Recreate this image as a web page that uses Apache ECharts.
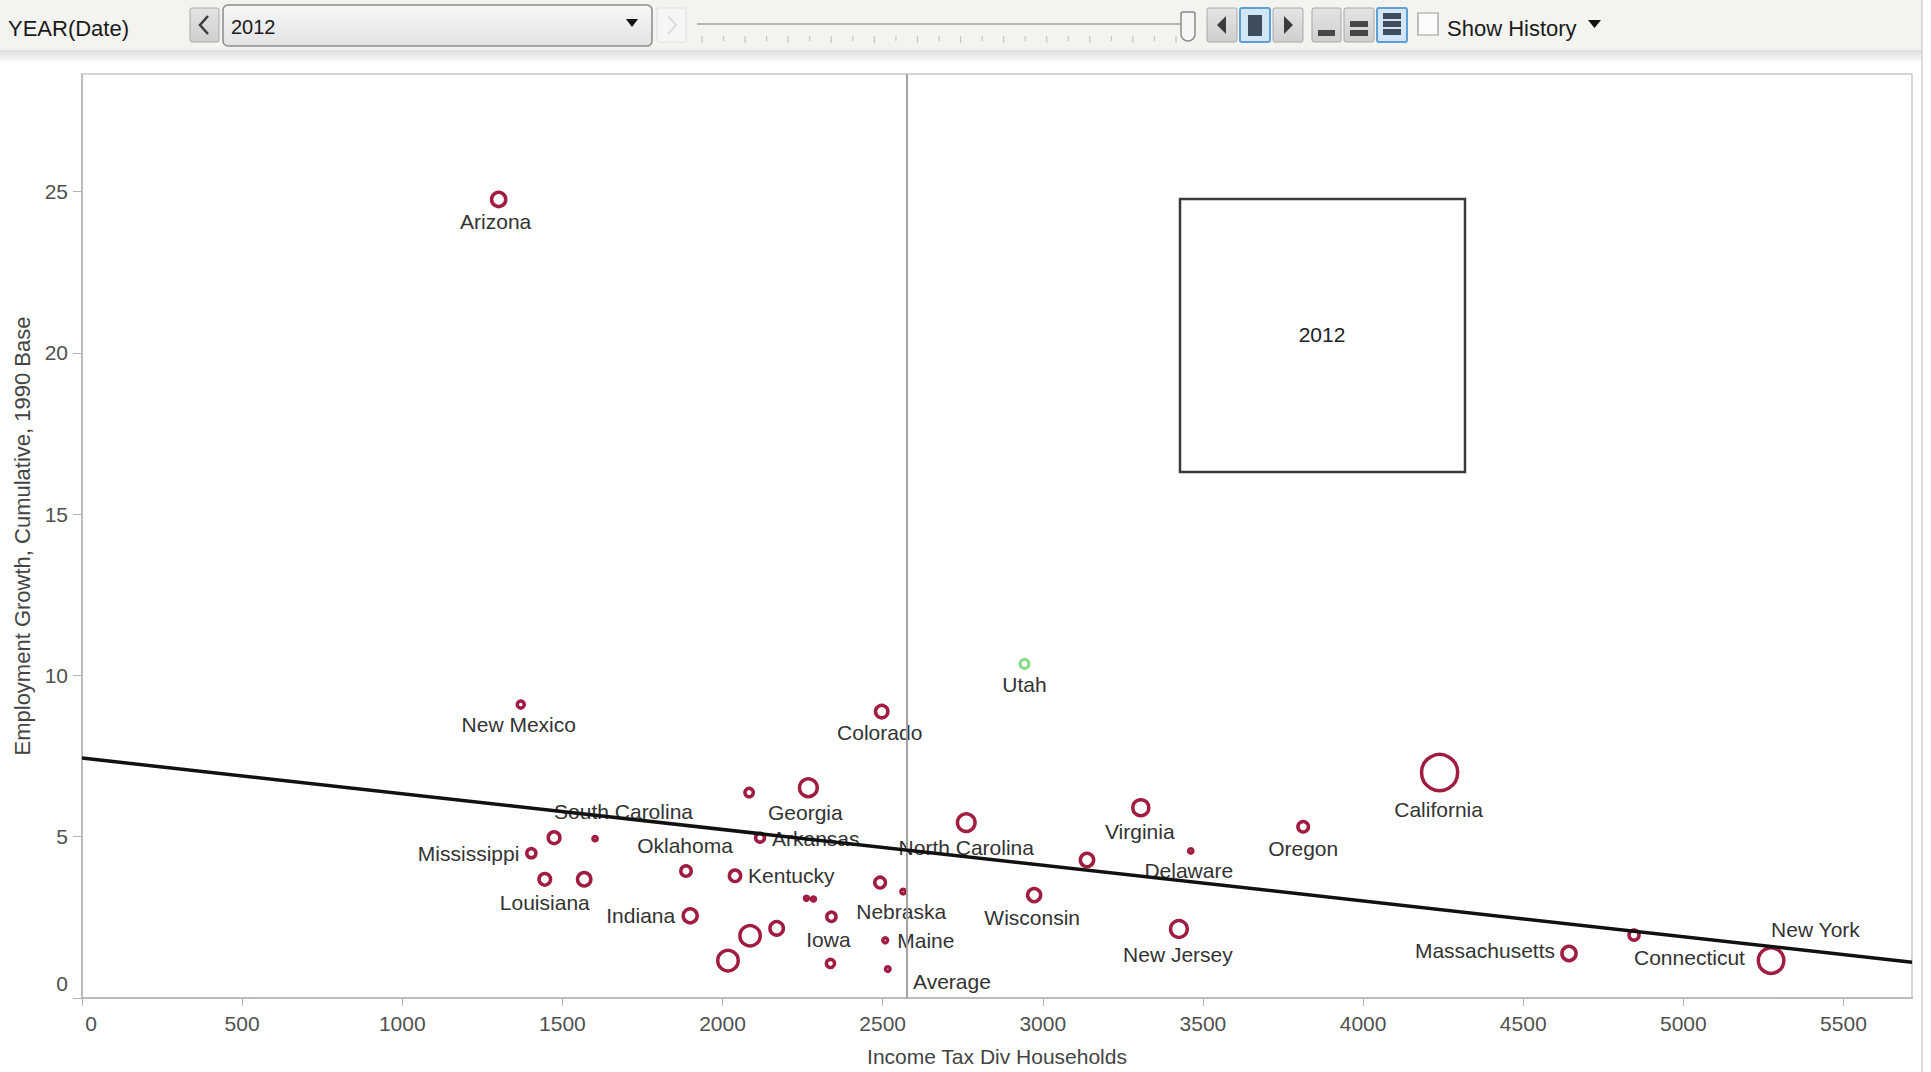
<!DOCTYPE html>
<html>
<head>
<meta charset="utf-8">
<script src="https://cdn.jsdelivr.net/npm/echarts@6/dist/echarts.min.js"></script>
<style>
html,body{margin:0;padding:0;background:#ffffff;}
#chart{width:1931px;height:1072px;}
</style>
</head>
<body>
<div id="chart"></div>
<script>
// ---------------- DATA ----------------
const currentYear = 2012;
const sliderYears = [1990,1991,1992,1993,1994,1995,1996,1997,1998,1999,2000,2001,2002,2003,2004,2005,2006,2007,2008,2009,2010,2011,2012];

// '' = mark shown without a label in the reference
const states = ['Arizona','New Mexico','Colorado','Utah','California','Oregon','Virginia','Delaware',
  'North Carolina','Wisconsin','New Jersey','Massachusetts','Connecticut','New York','Georgia','Arkansas',
  'South Carolina','Mississippi','Louisiana','Oklahoma','Kentucky','Indiana','Iowa','Nebraska','Maine',
  '','','','','','','','','','','',''];
const incomeTaxPerHousehold = [1301,1370,2497,2943,4239,3813,3306,3462,
  2761,2973,3425,4643,4846,5274,2268,2117,
  1474,1403,1445,1886,2039,1899,2340,2564,2508,
  3138,2083,1602,1568,2017,2086,2169,2262,2284,2337,2492,2516];
const employmentGrowth = [24.76,9.10,8.88,10.36,6.99,5.31,5.90,4.56,
  5.44,3.19,2.14,1.38,1.95,1.16,6.52,4.97,
  4.97,4.49,3.68,3.94,3.79,2.55,2.52,3.30,1.79,
  4.28,6.37,4.94,3.68,1.16,1.93,2.16,3.09,3.07,1.07,3.58,0.90];
// bubble size measure (population, millions)
const population = [6.6,2.0,5.2,2.9,38.0,3.9,8.2,0.9,
  9.8,5.7,8.9,6.6,3.6,19.6,9.9,2.9,
  4.7,3.0,4.6,3.8,4.4,6.5,3.1,1.0,1.1,
  5.9,2.6,0.9,5.9,13.0,12.8,6.0,0.8,0.8,2.5,4.0,1.0];
const highlightedState = 'Utah';
const averageIncomeTax = 2576;
const trendX = [0, 5714];
const trendY = [7.44, 1.11];
const xTicks = [0,500,1000,1500,2000,2500,3000,3500,4000,4500,5000,5500];
const yTicks = [0,5,10,15,20,25];

// ---------------- LAYOUT / STYLE ----------------
const F = "'Liberation Sans', Arial, sans-serif";
const FS = 21;
const RING = '#a01c40';
const RING_W = 3.5;
const labelPlacement = {
  'Arizona':{offset:[-3,22]}, 'New Mexico':{offset:[-2,20]}, 'Colorado':{offset:[-2,21]},
  'Utah':{offset:[0,21]}, 'California':{offset:[-1,37]}, 'Oregon':{offset:[0,22]},
  'Virginia':{offset:[-1,24]}, 'Delaware':{offset:[-2,20]}, 'North Carolina':{offset:[0,25]},
  'Wisconsin':{offset:[-2,22]}, 'New Jersey':{offset:[-1,26]},
  'Massachusetts':{offset:[-14,-3],align:'right'}, 'Connecticut':{offset:[0,22],align:'left'},
  'New York':{offset:[0,-31],align:'left'}, 'Georgia':{offset:[-3,25]},
  'Arkansas':{offset:[12,1],align:'left'}, 'South Carolina':{offset:[0,-26],align:'left'},
  'Mississippi':{offset:[-12,0],align:'right'}, 'Louisiana':{offset:[0,23]},
  'Oklahoma':{offset:[-1,-25]}, 'Kentucky':{offset:[13,0],align:'left'},
  'Indiana':{offset:[-15,0],align:'right'}, 'Iowa':{offset:[-3,23]},
  'Nebraska':{offset:[-2,20]}, 'Maine':{offset:[12,0],align:'left'}
};

const points = states.map((s, i) => {
  const item = { name: s, value: [incomeTaxPerHousehold[i], employmentGrowth[i], population[i]] };
  const lp = labelPlacement[s];
  if (lp) {
    item.label = { show: true, position: 'inside', align: lp.align || 'center', verticalAlign: 'middle',
      offset: lp.offset, formatter: '{b}' };
  }
  if (s === highlightedState) item.itemStyle = { borderColor: '#86dd86', borderWidth: 3 };
  return item;
});

// ---------------- TOOLBAR GRAPHICS ----------------
const g = [];
g.push({type:'rect', silent:true, shape:{x:0,y:0,width:1922,height:50}, style:{fill:'#f3f3ef'}});
g.push({type:'rect', silent:true, shape:{x:0,y:50,width:1922,height:12},
  style:{fill:new echarts.graphic.LinearGradient(0,0,0,1,[{offset:0,color:'#dedede'},{offset:1,color:'#fbfbfb'}])}});
g.push({type:'line', silent:true, shape:{x1:1922,y1:0,x2:1922,y2:1072}, style:{stroke:'#d2d2d2',lineWidth:1.5}});
g.push({type:'text', silent:true, style:{text:'YEAR(Date)', x:8, y:28, fontSize:22, fontFamily:F, fill:'#1a1a1a', verticalAlign:'middle'}});
function button(x, w, active) {
  g.push({type:'rect', silent:true, shape:{x:x,y:8,width:w,height:34,r:2},
    style:{fill: active ? '#d3e6f7' : new echarts.graphic.LinearGradient(0,0,0,1,[{offset:0,color:'#e4e4e4'},{offset:1,color:'#cfcfcf'}]),
      stroke: active ? '#5e9fd6' : '#a9a9a9', lineWidth: active ? 2 : 1}});
}
// prev / dropdown / next
button(190, 29, false);
g.push({type:'polyline', silent:true, shape:{points:[[208,16],[200,25],[208,34]]}, style:{stroke:'#3c3c3c',lineWidth:2.5,fill:null}});
g.push({type:'rect', silent:true, shape:{x:223,y:5,width:429,height:41,r:5},
  style:{fill:new echarts.graphic.LinearGradient(0,0,0,1,[{offset:0,color:'#f8f8f8'},{offset:1,color:'#e2e2e2'}]), stroke:'#8a8a8a', lineWidth:1.5}});
g.push({type:'text', silent:true, style:{text:String(currentYear), x:231, y:27, fontSize:20, fontFamily:F, fill:'#1a1a1a', verticalAlign:'middle'}});
g.push({type:'polygon', silent:true, shape:{points:[[626,19],[638,19],[632,27]]}, style:{fill:'#111'}});
g.push({type:'rect', silent:true, shape:{x:657,y:8,width:29,height:34,r:2}, style:{fill:'#f6f6f6', stroke:'#e0e0e0', lineWidth:1}});
g.push({type:'polyline', silent:true, shape:{points:[[668,16],[676,25],[668,34]]}, style:{stroke:'#dcdcdc',lineWidth:2,fill:null}});
// slider
g.push({type:'line', silent:true, shape:{x1:697,y1:24,x2:1183,y2:24}, style:{stroke:'#b5b5b5',lineWidth:2}});
sliderYears.forEach((yr, i) => {
  const x = 702 + i * (1176 - 702) / (sliderYears.length - 1);
  g.push({type:'line', silent:true, shape:{x1:x,y1:36,x2:x,y2:(i % 2 ? 41 : 43)}, style:{stroke:'#c4c4c4',lineWidth:1.2}});
});
g.push({type:'rect', silent:true, shape:{x:1181,y:12,width:14,height:29,r:[2,2,7,7]}, style:{fill:'#f6f6f6', stroke:'#8c8c8c', lineWidth:1.5}});
// play controls
button(1207, 30, false);
g.push({type:'polygon', silent:true, shape:{points:[[1226,16],[1217,25],[1226,34]]}, style:{fill:'#3c3c3c'}});
button(1240, 30, true);
g.push({type:'rect', silent:true, shape:{x:1248,y:15,width:14,height:21}, style:{fill:'#3e4d5e'}});
button(1273, 30, false);
g.push({type:'polygon', silent:true, shape:{points:[[1284,16],[1293,25],[1284,34]]}, style:{fill:'#3c3c3c'}});
// speed buttons
button(1312, 29, false);
g.push({type:'rect', silent:true, shape:{x:1318,y:30,width:17,height:6}, style:{fill:'#474747'}});
button(1344, 30, false);
g.push({type:'rect', silent:true, shape:{x:1350,y:21,width:18,height:6}, style:{fill:'#474747'}});
g.push({type:'rect', silent:true, shape:{x:1350,y:30,width:18,height:6}, style:{fill:'#474747'}});
button(1377, 30, true);
g.push({type:'rect', silent:true, shape:{x:1383,y:13,width:18,height:6}, style:{fill:'#3e4d5e'}});
g.push({type:'rect', silent:true, shape:{x:1383,y:21,width:18,height:6}, style:{fill:'#3e4d5e'}});
g.push({type:'rect', silent:true, shape:{x:1383,y:29,width:18,height:6}, style:{fill:'#3e4d5e'}});
// show history
g.push({type:'rect', silent:true, shape:{x:1418,y:13,width:20,height:22}, style:{fill:'#fbfbfb', stroke:'#9a9a9a', lineWidth:1.2}});
g.push({type:'text', silent:true, style:{text:'Show History', x:1447, y:28, fontSize:22, fontFamily:F, fill:'#1a1a1a', verticalAlign:'middle'}});
g.push({type:'polygon', silent:true, shape:{points:[[1588,20],[1601,20],[1594.5,28]]}, style:{fill:'#111'}});
// year box in plot
g.push({type:'rect', silent:true, shape:{x:1180,y:199,width:285,height:273}, style:{fill:'#ffffff', stroke:'#3a3a3a', lineWidth:2.5}});
g.push({type:'text', silent:true, style:{text:String(currentYear), x:1322, y:334, fontSize:FS, fontFamily:F, fill:'#222', align:'center', verticalAlign:'middle'}});

// ---------------- CHART ----------------
const chart = echarts.init(document.getElementById('chart'), null, {renderer:'svg'});
chart.setOption({
  animation: false,
  backgroundColor: '#ffffff',
  textStyle: { fontFamily: F },
  grid: { left: 82, top: 74, right: 19, bottom: 72, show: true, borderColor: '#c8c8c8', borderWidth: 1.5, backgroundColor: 'transparent' },
  xAxis: {
    type: 'value', min: 0, max: 5714, interval: 500,
    name: 'Income Tax Div Households', nameLocation: 'middle', nameGap: 48,
    nameTextStyle: { fontSize: FS, color: '#444', fontFamily: F },
    axisLine: { show: true, lineStyle: { color: '#b3b3b3', width: 1.5 } },
    axisTick: { show: true, length: 8, lineStyle: { color: '#b3b3b3' }, customValues: xTicks },
    axisLabel: { fontSize: FS, color: '#505050', margin: 15, customValues: xTicks,
      formatter: v => v === 0 ? '{z|0}' : (xTicks.includes(v) ? String(v) : ''),
      rich: { z: { fontSize: FS, color: '#505050', fontFamily: F, padding: [0,0,0,18] } } },
    splitLine: { show: false }
  },
  yAxis: {
    type: 'value', min: 0, max: 28.65, interval: 5,
    name: 'Employment Growth, Cumulative, 1990 Base', nameLocation: 'middle', nameGap: 44,
    nameTextStyle: { fontSize: 22, color: '#444', fontFamily: F },
    axisLine: { show: true, lineStyle: { color: '#b3b3b3', width: 1.5 } },
    axisTick: { show: true, length: 9, lineStyle: { color: '#b3b3b3' }, customValues: yTicks },
    axisLabel: { fontSize: FS, color: '#505050', margin: 14, customValues: yTicks,
      formatter: v => v === 0 ? '{z|0}' : (yTicks.includes(v) ? String(v) : ''),
      rich: { z: { fontSize: FS, color: '#505050', fontFamily: F, padding: [0,0,30,0] } } },
    splitLine: { show: false }
  },
  series: [
    {
      type: 'scatter', z: 2, data: points,
      symbol: 'circle',
      symbolSize: d => Math.max(3, 6.1 * Math.sqrt(d[2]) + 2 - RING_W),
      itemStyle: { color: 'rgba(255,255,255,0)', borderColor: RING, borderWidth: RING_W, opacity: 1 },
      label: { show: false, fontSize: FS, color: '#333', fontFamily: F },
      emphasis: { disabled: true }
    },
    {
      type: 'line', z: 5, symbol: 'none', silent: true,
      data: trendX.map((x, i) => [x, trendY[i]]),
      lineStyle: { color: '#111', width: 3.5 },
      markLine: { silent: true, symbol: ['none','none'], label: { show: false },
        lineStyle: { color: '#a3a3a3', width: 2, type: 'solid' },
        data: [{ xAxis: averageIncomeTax }] },
      markPoint: { silent: true, symbol: 'circle', symbolSize: 1, itemStyle: { color: 'rgba(0,0,0,0)' },
        label: { show: true, formatter: 'Average', position: 'inside', align: 'left', verticalAlign: 'middle',
          offset: [6, -17], fontSize: FS, color: '#333', fontFamily: F },
        data: [{ coord: [averageIncomeTax, 0] }] }
    }
  ],
  graphic: { elements: g }
});
</script>
</body>
</html>
